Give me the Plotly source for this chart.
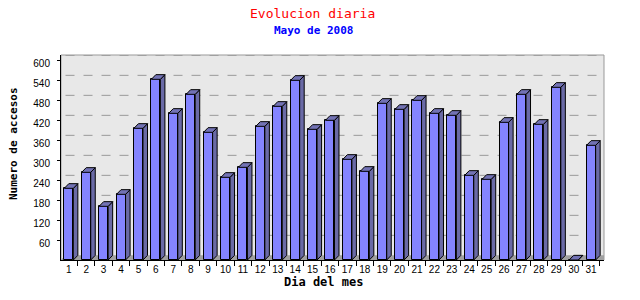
import plotly.graph_objects as go

days = list(range(1, 32))
accesos = [215, 263, 161, 197, 395, 542, 440, 497, 383, 248, 278, 401, 461, 539, 392, 419,
           302, 266, 470, 452, 479, 440, 434, 254, 242, 413, 497, 407, 518, 0, 344]
y_ticks = [60, 120, 180, 240, 300, 360, 420, 480, 540, 600]

title_txt = "Evolucion diaria"
subtitle_txt = "Mayo de 2008"
x_title = "Dia del mes"
y_title = "Numero de accesos"

# pseudo-3D geometry (data units)
shift = -0.2     # front face center offset
bw = 0.52        # front face width
dx = 0.26        # depth in x
dy = 14          # depth in y
X0, X1 = 0.352, 31.54
Y0, Y1 = 0, 615

L, R, T, B = 61, 36, 55, 40
W, H = 640, 300
pw, ph = W - L - R, H - T - B

front_x = [d + shift for d in days]

side_x, side_y, top_x, top_y = [], [], [], []
for fx, v in zip(front_x, accesos):
    xl, xr = fx - bw / 2, fx + bw / 2
    side_x += [xr, xr + dx, xr + dx, xr, xr, None]
    side_y += [0, dy, v + dy, v, 0, None]
    top_x += [xl, xl + dx, xr + dx, xr, xl, None]
    top_y += [v, v + dy, v + dy, v, v, None]

fig = go.Figure()
fig.add_trace(go.Bar(x=front_x, y=accesos, width=bw,
                     marker=dict(color="#8484ff", line=dict(color="black", width=1)),
                     hoverinfo="skip"))
fig.add_trace(go.Scatter(x=side_x, y=side_y, mode="lines", fill="toself",
                         fillcolor="#6a6aa6", line=dict(color="black", width=1),
                         hoverinfo="skip"))
fig.add_trace(go.Scatter(x=top_x, y=top_y, mode="lines", fill="toself",
                         fillcolor="#7272b4", line=dict(color="black", width=1),
                         hoverinfo="skip"))

shapes = []
# floor
shapes.append(dict(type="path", xref="x", yref="y", layer="below",
                   path=f"M {X0},0 L {X1},0 L {X1},{dy} L {X0 + dx},{dy} Z",
                   fillcolor="#a0a0a0", line=dict(width=0)))
# back-wall dashed gridlines
for t in y_ticks:
    shapes.append(dict(type="line", xref="x", yref="y", layer="below",
                       x0=X0 + dx, x1=X1, y0=t + dy, y1=t + dy,
                       line=dict(color="#999999", width=1, dash="dash")))
# grey frame
shapes.append(dict(type="rect", xref="paper", yref="paper", layer="below",
                   x0=0, x1=1, y0=0, y1=1, line=dict(color="#999999", width=1)))

mono = "DejaVu Sans Mono"
fig.update_layout(
    width=W, height=H,
    margin=dict(l=L, r=R, t=T, b=B),
    paper_bgcolor="white", plot_bgcolor="#e8e8e8",
    showlegend=False, bargap=0,
    shapes=shapes,
    font=dict(family="Liberation Sans", size=10, color="black"),
    xaxis=dict(range=[X0, X1], showgrid=False, zeroline=False,
               showline=True, linecolor="black", linewidth=1,
               tickmode="array", tickvals=front_x, ticktext=[str(d) for d in days],
               ticks="", tickfont=dict(family="Liberation Sans", size=10),
               minor=dict(ticks="outside", ticklen=5, tickcolor="black",
                          tick0=1.3, dtick=1, showgrid=False),
               fixedrange=True),
    yaxis=dict(range=[Y0, Y1], showgrid=False, zeroline=False,
               showline=True, linecolor="black", linewidth=1,
               tickmode="array", tickvals=y_ticks,
               ticks="outside", ticklen=3, tickcolor="black",
               tickfont=dict(family="Liberation Sans", size=10),
               ticklabelstandoff=5, ticklabelshift=3,
               fixedrange=True),
    annotations=[
        dict(text=title_txt, xref="paper", yref="paper",
             x=(312 - L) / pw, y=(H - B - 13) / ph, xanchor="center", yanchor="middle",
             showarrow=False, font=dict(family=mono, size=13, color="#ff0000")),
        dict(text=f"<b>{subtitle_txt}</b>", xref="paper", yref="paper",
             x=(313 - L) / pw, y=(H - B - 31) / ph, xanchor="center", yanchor="middle",
             showarrow=False, font=dict(family=mono, size=11, color="#0000ff")),
        dict(text=f"<b>{x_title}</b>", xref="paper", yref="paper",
             x=(323.5 - L) / pw, y=(H - B - 282) / ph, xanchor="center", yanchor="middle",
             showarrow=False, font=dict(family=mono, size=12, color="black")),
        dict(text=f"<b>{y_title}</b>", xref="paper", yref="paper",
             x=(13 - L) / pw, y=(H - B - 144) / ph, xanchor="center", yanchor="middle",
             textangle=-90, showarrow=False, font=dict(family=mono, size=11, color="black")),
    ],
)

fig.write_html("out.html")
